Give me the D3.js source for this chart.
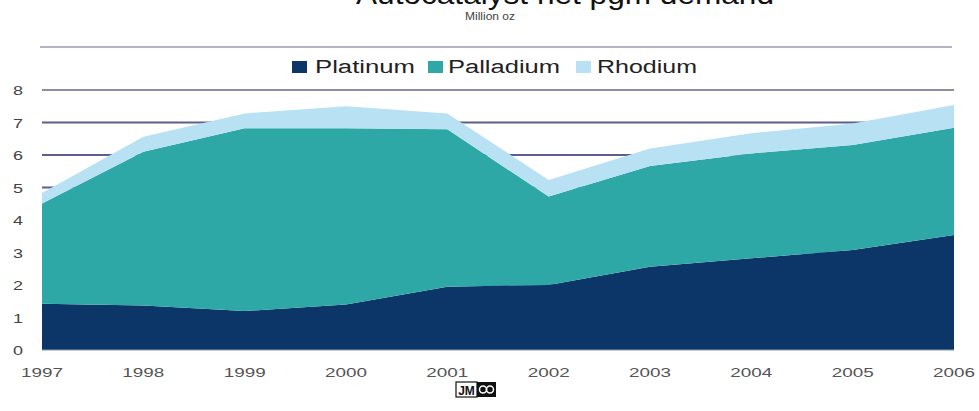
<!DOCTYPE html>
<html>
<head>
<meta charset="utf-8">
<script src="https://cdn.jsdelivr.net/npm/d3@7"></script>
<style>
  body { margin: 0; background: #fff; }
  text { font-family: "Liberation Sans", Arial, sans-serif; }
</style>
</head>
<body>
<svg id="chart" width="979" height="411"></svg>
<script>
// Chart data (million oz)
var years = [1997, 1998, 1999, 2000, 2001, 2002, 2003, 2004, 2005, 2006];
var platinum = [1.42, 1.37, 1.20, 1.40, 1.95, 2.00, 2.56, 2.82, 3.08, 3.54];
var palladium = [3.09, 4.73, 5.62, 5.42, 4.84, 2.72, 3.10, 3.23, 3.23, 3.30];
var rhodium = [0.32, 0.46, 0.46, 0.68, 0.49, 0.51, 0.54, 0.62, 0.66, 0.70];
var seriesNames = ["Platinum", "Palladium", "Rhodium"];
var colors = ["#0d3668", "#2ea8a6", "#b8e1f3"];
var yTicks = [0, 1, 2, 3, 4, 5, 6, 7, 8];

var width = 979;
var height = 411;
var margin = { left: 42, right: 25, top: 90, bottom: 61 };

var svg = d3.select('#chart');

var xScale = d3.scaleLinear().domain([1997, 2006]).range([margin.left, width - margin.right]);
var yScale = d3.scaleLinear().domain([0, 8]).range([height - margin.bottom, margin.top]);

// build rows for the stack
var rows = years.map(function(y, i) {
    return { year: y, Platinum: platinum[i], Palladium: palladium[i], Rhodium: rhodium[i] };
});
var stacked = d3.stack().keys(seriesNames)(rows);

// title (cut off at the top edge) and subtitle
svg.append('text')
    .attr('x', 356)
    .attr('y', 4)
    .attr('textLength', 418)
    .attr('lengthAdjust', 'spacingAndGlyphs')
    .style('font-size', '27px')
    .style('fill', '#111')
    .text('Autocatalyst net pgm demand');

svg.append('text')
    .attr('x', 465)
    .attr('y', 20)
    .attr('textLength', 50)
    .attr('lengthAdjust', 'spacingAndGlyphs')
    .style('font-size', '10px')
    .style('fill', '#444')
    .text('Million oz');

// rule above the legend
svg.append('line')
    .attr('x1', 40).attr('x2', 952)
    .attr('y1', 47).attr('y2', 47)
    .attr('stroke', '#9a9aae')
    .attr('stroke-width', 1.5);

// legend
var legendBox = [292, 428, 576];
var legendText = [315, 448, 597];
var legendLen = [100, 112, 100];
var legend = svg.append('g');
seriesNames.forEach(function(name, i) {
    legend.append('rect')
        .attr('x', legendBox[i]).attr('y', 61)
        .attr('width', 15).attr('height', 12)
        .attr('fill', colors[i]);
    legend.append('text')
        .attr('x', legendText[i]).attr('y', 73)
        .attr('textLength', legendLen[i])
        .attr('lengthAdjust', 'spacingAndGlyphs')
        .style('font-size', '18px')
        .style('fill', '#222')
        .text(name);
});

// horizontal gridlines, behind the areas
svg.append('g')
    .selectAll('line')
    .data(yTicks.filter(function(d) { return d > 0; }))
    .enter()
    .append('line')
    .attr('x1', margin.left)
    .attr('x2', width - margin.right)
    .attr('y1', function(d) { return yScale(d); })
    .attr('y2', function(d) { return yScale(d); })
    .attr('stroke', function(d) { return d === 8 ? '#8e8ea2' : '#5e5e88'; })
    .attr('stroke-width', 2);

// stacked areas
var area = d3.area()
    .x(function(d) { return xScale(d.data.year); })
    .y0(function(d) { return yScale(d[0]); })
    .y1(function(d) { return yScale(d[1]); })
    .curve(d3.curveLinear);

svg.append('g')
    .selectAll('path')
    .data(stacked)
    .enter()
    .append('path')
    .attr('d', area)
    .attr('fill', function(d, i) { return colors[i]; });

// baseline
svg.append('line')
    .attr('x1', margin.left).attr('x2', width - margin.right)
    .attr('y1', yScale(0)).attr('y2', yScale(0))
    .attr('stroke', '#8a9ab8')
    .attr('stroke-width', 1);

// y axis labels
svg.append('g')
    .selectAll('text')
    .data(yTicks)
    .enter()
    .append('text')
    .attr('x', 18)
    .attr('y', function(d) { return yScale(d) + 5; })
    .attr('text-anchor', 'middle')
    .attr('textLength', 10)
    .attr('lengthAdjust', 'spacingAndGlyphs')
    .style('font-size', '13px')
    .style('fill', '#444')
    .text(function(d) { return d; });

// x axis labels
svg.append('g')
    .selectAll('text')
    .data(years)
    .enter()
    .append('text')
    .attr('x', function(d) { return xScale(d) - 21; })
    .attr('y', 377)
    .attr('textLength', 42)
    .attr('lengthAdjust', 'spacingAndGlyphs')
    .style('font-size', '12.5px')
    .style('fill', '#555')
    .text(function(d) { return d; });

// JM logo under the axis
var logo = svg.append('g').attr('transform', 'translate(456, 382)');
logo.append('rect')
    .attr('x', 0).attr('y', 0).attr('width', 21).attr('height', 15)
    .attr('fill', '#fff').attr('stroke', '#111').attr('stroke-width', 1.2);
logo.append('text')
    .attr('x', 10.5).attr('y', 12.5)
    .attr('text-anchor', 'middle')
    .style('font-size', '12px')
    .style('font-weight', 'bold')
    .style('fill', '#111')
    .text('JM');
logo.append('rect')
    .attr('x', 21).attr('y', 0).attr('width', 19).attr('height', 15)
    .attr('fill', '#111');
logo.append('circle')
    .attr('cx', 27).attr('cy', 7.5).attr('r', 3.5)
    .attr('fill', 'none').attr('stroke', '#fff').attr('stroke-width', 1.5);
logo.append('circle')
    .attr('cx', 34).attr('cy', 7.5).attr('r', 3.5)
    .attr('fill', 'none').attr('stroke', '#fff').attr('stroke-width', 1.5);
</script>
</body>
</html>
